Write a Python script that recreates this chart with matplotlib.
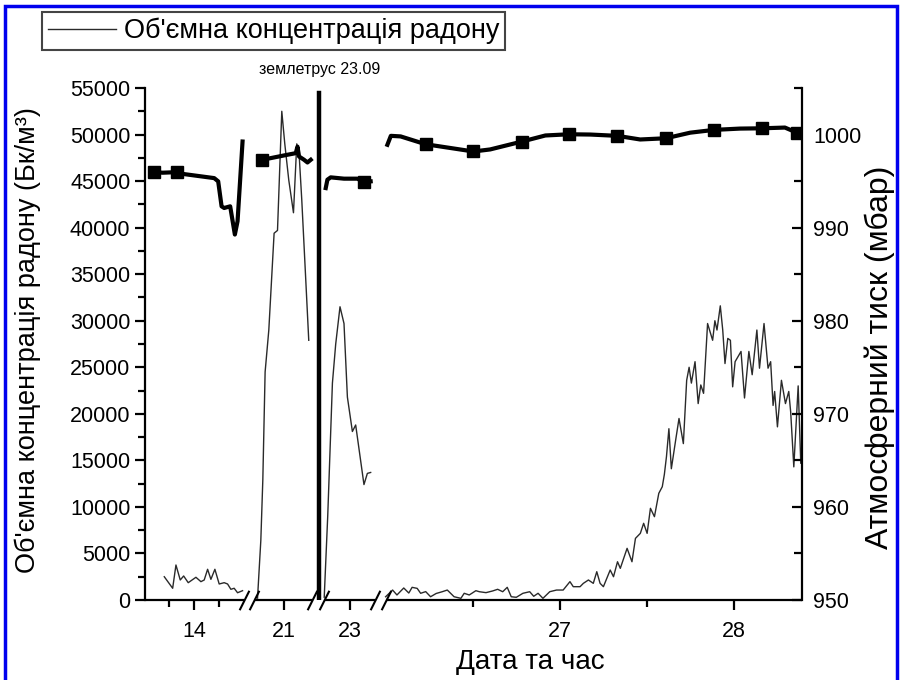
import numpy as np
import matplotlib
matplotlib.use('Agg')
import matplotlib.pyplot as plt
from matplotlib.patches import Rectangle
from matplotlib.ticker import FixedLocator, MultipleLocator

plt.rcParams['font.family'] = ['Liberation Sans', 'DejaVu Sans']

# --- data (days of month / Bq per m3 / mbar) ---
radon_t1 = [13.703, 13.787, 13.82, 13.863, 13.897, 13.943, 14.02, 14.07, 14.103, 14.137,
            14.17, 14.21, 14.253, 14.303, 14.337, 14.37, 14.403, 14.437, 14.487]
radon_v1 = [2500, 1260, 3760, 2150, 2580, 1860, 2440, 1970, 2150, 3300,
            2220, 3300, 1720, 1860, 1720, 1150, 1260, 780, 1000]

radon_t2 = [20.737, 20.77, 20.79, 20.813, 20.85, 20.903, 20.937, 20.98, 21.01, 21.05,
            21.097, 21.13, 21.153, 21.18, 21.22, 21.25]
radon_v2 = [200, 6400, 12900, 24500, 29000, 39400, 39700, 52500, 49000, 45100,
            41600, 49000, 48000, 43000, 34400, 27900]

radon_t3 = [22.745, 22.78, 22.827, 22.86, 22.903, 22.943, 22.977, 23.027, 23.06, 23.143,
            23.177, 23.21]
radon_v3 = [300, 9000, 23300, 27500, 31500, 29700, 21800, 18100, 18800, 12400,
            13600, 13700]

radon_t4 = [26.00, 26.04, 26.065, 26.104, 26.133, 26.152, 26.181, 26.201, 26.23, 26.258,
            26.29, 26.325, 26.354, 26.393, 26.432, 26.451, 26.48, 26.518, 26.538, 26.576,
            26.614, 26.643, 26.672, 26.698, 26.721, 26.75, 26.788, 26.827, 26.85, 26.875,
            26.903, 26.942, 26.981, 27.019, 27.058, 27.077, 27.116, 27.135, 27.164, 27.192,
            27.212, 27.231, 27.25, 27.289, 27.308, 27.331, 27.347, 27.386, 27.414, 27.434,
            27.462, 27.481, 27.501, 27.52, 27.543, 27.568, 27.588, 27.60, 27.612, 27.626,
            27.64, 27.665, 27.684, 27.709, 27.728, 27.742, 27.755, 27.776, 27.794, 27.809,
            27.825, 27.848, 27.877, 27.89, 27.902, 27.921, 27.935, 27.948, 27.964, 27.979,
            27.992, 28.006, 28.04, 28.06, 28.085, 28.104, 28.131, 28.146, 28.172, 28.195,
            28.21, 28.224, 28.233, 28.249, 28.272, 28.295, 28.314, 28.325, 28.343, 28.368,
            28.383]
radon_v4 = [350, 1070, 540, 1290, 750, 1360, 1250, 720, 900, 350,
            700, 890, 1070, 350, 180, 720, 540, 1000, 890, 790,
            970, 1150, 890, 1360, 350, 290, 720, 890, 400, 720,
            180, 890, 1070, 1070, 1970, 1430, 1430, 1790, 2150, 1790,
            3040, 1790, 1430, 3220, 2500, 4110, 3400, 5550, 4110, 6620,
            7160, 8240, 7160, 9850, 8950, 11460, 12170, 13500, 15400, 18400,
            14100, 17200, 19500, 16800, 23600, 25000, 23300, 25600, 21100, 23100,
            22200, 29700, 27900, 30000, 29000, 31600, 29000, 25400, 28100, 27900,
            22900, 25600, 26700, 21700, 26700, 24200, 29000, 24900, 29700, 24900,
            25600, 20900, 22400, 18600, 23600, 21100, 22400, 20200, 14300, 23000,
            14700]

press_t1 = [13.597, 13.687, 13.827, 13.903, 14.203, 14.243, 14.277, 14.303, 14.363, 14.41,
            14.437, 14.487]
press_v1 = [995.96, 995.9, 995.96, 995.75, 995.32, 994.97, 992.29, 992.11, 992.29, 989.26,
            990.69, 999.25]
press_m1 = [0, 2]

press_t2 = [20.78, 20.87, 21.037, 21.12, 21.137, 21.153, 21.203, 21.237, 21.27]
press_v2 = [997.29, 997.47, 997.83, 998.0, 998.7, 997.64, 997.29, 997.0, 997.29]
press_m2 = [0]

press_t3 = [22.76, 22.777, 22.81, 22.943, 23.077, 23.143, 23.21]
press_v3 = [994.25, 995.15, 995.4, 995.26, 995.26, 994.9, 994.97]
press_m3 = [5]

press_t4 = [26.01, 26.03, 26.086, 26.229, 26.504, 26.60, 26.783, 26.917, 27.054, 27.175,
            27.33, 27.461, 27.609, 27.748, 27.885, 28.034, 28.16, 28.292, 28.361]
press_v4 = [998.9, 999.86, 999.8, 998.96, 998.18, 998.4, 999.25, 999.9, 1000.03, 1000.0,
            999.86, 999.47, 999.6, 1000.2, 1000.5, 1000.64, 1000.67, 1000.75, 1000.2]
press_m4 = [3, 4, 6, 8, 10, 12, 14, 16, 18]

quake_day = 22.2
x_major = [14, 21, 23, 27, 28]
x_minor = [13.75, 14.25, 26.5, 27.5]

# broken x axis: data segments and their place on the axis
day_knots = [13.51, 14.50, 20.70, 21.28, 22.74, 23.25, 26.00, 28.39]
pos_knots = [144, 243, 253, 311, 323, 374, 385, 802]


def fwd(x):
    return np.interp(x, day_knots, pos_knots)


def inv(p):
    return np.interp(p, pos_knots, day_knots)


fig = plt.figure(figsize=(9, 6.8), dpi=100)
fig.subplots_adjust(left=145 / 900, right=802 / 900, bottom=1 - 600 / 680, top=1 - 88 / 680)
ax = fig.add_subplot(111)
ax.set_xscale('function', functions=(fwd, inv))
ax.set_xlim(day_knots[0], day_knots[-1])
ax.set_ylim(0, 55000)

rad_kw = dict(color='#2a2a2a', lw=1.0)
radon_line, = ax.plot(radon_t1, radon_v1, **rad_kw)
ax.plot(radon_t2, radon_v2, **rad_kw)
ax.plot(radon_t3, radon_v3, **rad_kw)
ax.plot(radon_t4, radon_v4, **rad_kw)

ax.axvline(quake_day, ymin=0, ymax=0.99, color='k', lw=3.2)
ax.text(quake_day, 1.022, 'землетрус 23.09', transform=ax.get_xaxis_transform(),
        ha='center', va='bottom', fontsize=11.5)

ax2 = ax.twinx()
ax2.set_ylim(950, 1005)
p_kw = dict(color='k', lw=3, marker='s', ms=8)
ax2.plot(press_t1, press_v1, markevery=press_m1, **p_kw)
ax2.plot(press_t2, press_v2, markevery=press_m2, **p_kw)
ax2.plot(press_t3, press_v3, markevery=press_m3, **p_kw)
ax2.plot(press_t4, press_v4, markevery=press_m4, **p_kw)

# spines and ticks
for a in (ax, ax2):
    a.spines['top'].set_visible(False)
    a.spines['bottom'].set_visible(False)
ax.spines['right'].set_visible(False)
ax2.spines['left'].set_visible(False)
ax.spines['left'].set_linewidth(1.6)
ax2.spines['right'].set_linewidth(1.6)

ax.xaxis.set_major_locator(FixedLocator(x_major))
ax.xaxis.set_minor_locator(FixedLocator(x_minor))
ax.set_xticklabels([str(d) for d in x_major])
ax.yaxis.set_major_locator(MultipleLocator(5000))
ax.yaxis.set_minor_locator(MultipleLocator(2500))
ax2.yaxis.set_major_locator(MultipleLocator(10))
ax2.yaxis.set_minor_locator(MultipleLocator(5))

ax.tick_params(axis='both', which='both', direction='out', width=1.6, labelsize=15.5)
ax.tick_params(axis='both', which='major', length=7)
ax.tick_params(axis='both', which='minor', length=5)
ax.tick_params(axis='x', pad=8)
ax2.tick_params(axis='y', which='both', direction='in', width=1.6, labelsize=15.5, pad=8)
ax2.tick_params(axis='y', which='major', length=7)
ax2.tick_params(axis='y', which='minor', length=6)

# x axis line pieces with break marks
xt = ax.get_xaxis_transform()
for i in range(0, len(day_knots), 2):
    ax.plot(day_knots[i:i + 2], [0, 0], color='k', lw=1.6, transform=xt,
            clip_on=False, solid_capstyle='butt')
ax.plot(day_knots[1:-1], [0] * (len(day_knots) - 2), ls='none', marker=[(-1, -2), (1, 2)],
        ms=14, mew=1.5, color='k', transform=xt, clip_on=False)

ax.set_xlabel('Дата та час', fontsize=20)
ax.xaxis.set_label_coords((530 - 145) / 657, (600 - 662) / 512)
ax.xaxis.label.set_va('center')
ax.set_ylabel("Об'ємна концентрація радону (Бк/м³)", fontsize=19.5)
ax.yaxis.set_label_coords((28 - 145) / 657, (600 - 340) / 512)
ax.yaxis.label.set_va('center')
ax2.set_ylabel('Атмосферний тиск (мбар)', fontsize=23)
ax2.yaxis.set_label_coords((880 - 145) / 657, (600 - 357) / 512)
ax2.yaxis.label.set_va('center')

leg = fig.legend([radon_line], ["Об'ємна концентрація радону"], loc='upper left',
                 bbox_to_anchor=(42 / 900, 1 - 12 / 680), borderaxespad=0,
                 fancybox=False, edgecolor='#444444', framealpha=1, fontsize=19.5,
                 handlelength=2.5, handletextpad=0.3, borderpad=0.22)
leg.get_frame().set_linewidth(1.5)

fig.patches.append(Rectangle((5 / 900, -0.05), 892 / 900, 1.05 - 6 / 680, transform=fig.transFigure,
                             fill=False, edgecolor='#0000ee', lw=2.5))

fig.savefig('out.png', dpi=100)
